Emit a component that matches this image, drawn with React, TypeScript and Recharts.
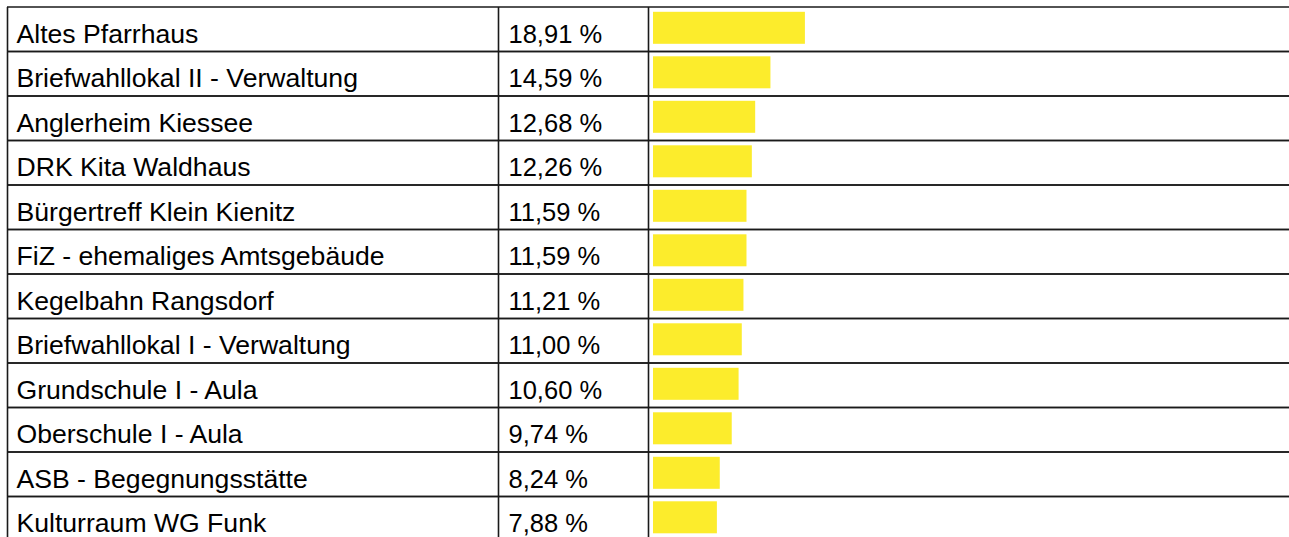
import React from 'react';
import { BarChart, Bar, XAxis, YAxis } from 'recharts';

// Wahllokale und Anteile (in %)
const locations = [
  'Altes Pfarrhaus',
  'Briefwahllokal II - Verwaltung',
  'Anglerheim Kiessee',
  'DRK Kita Waldhaus',
  'Bürgertreff Klein Kienitz',
  'FiZ - ehemaliges Amtsgebäude',
  'Kegelbahn Rangsdorf',
  'Briefwahllokal I - Verwaltung',
  'Grundschule I - Aula',
  'Oberschule I - Aula',
  'ASB - Begegnungsstätte',
  'Kulturraum WG Funk',
];
const shares = [18.91, 14.59, 12.68, 12.26, 11.59, 11.59, 11.21, 11.0, 10.6, 9.74, 8.24, 7.88];

const data = locations.map((name, i) => ({ name, share: shares[i] }));

const WIDTH = 1289;
const HEIGHT = 560;
const MARGIN = { top: 7, right: 0, bottom: 19, left: 8 };
const ROW = (HEIGHT - MARGIN.top - MARGIN.bottom) / locations.length;
const LINE = '#1a1a1a';
const FONT = '"Liberation Sans", Arial, Helvetica, sans-serif';

const formatShare = (v: number) => v.toFixed(2).replace('.', ',') + ' %';

// draws one table row: borders, name and percent
const RowTick = (props: any) => {
  const { y, payload } = props;
  const idx = payload.index;
  const top = y - ROW / 2;
  const baseline = top + 35.5;
  return (
    <g>
      <line x1={7} x2={WIDTH} y1={top} y2={top} stroke={LINE} strokeWidth={1.6} />
      <line x1={7} x2={WIDTH} y1={top + ROW} y2={top + ROW} stroke={LINE} strokeWidth={1.6} />
      <line x1={7.5} x2={7.5} y1={top} y2={top + ROW} stroke={LINE} strokeWidth={1.6} />
      <line x1={498.5} x2={498.5} y1={top} y2={top + ROW} stroke={LINE} strokeWidth={1.6} />
      <line x1={648.5} x2={648.5} y1={top} y2={top + ROW} stroke={LINE} strokeWidth={1.6} />
      <text x={16.5} y={baseline} fontFamily={FONT} fontSize={26.6} fill="#000">
        {payload.value}
      </text>
      <text x={508.5} y={baseline} fontFamily={FONT} fontSize={25.5} fill="#000">
        {formatShare(shares[idx])}
      </text>
    </g>
  );
};

const BarShape = (props: any) => {
  const { x, y, width, height, fill } = props;
  return <rect x={x} y={y - 1.2} width={width + 1} height={height} fill={fill} />;
};

export default function App() {
  return (
    <div style={{ position: 'absolute', left: 0, top: 0, background: '#fff' }}>
      <BarChart width={WIDTH} height={HEIGHT} data={data} layout="vertical" margin={MARGIN}>
        <XAxis type="number" domain={[0, 79.7]} hide />
        <YAxis
          type="category"
          dataKey="name"
          width={645}
          axisLine={false}
          tickLine={false}
          interval={0}
          tick={<RowTick />}
        />
        <Bar dataKey="share" fill="#fcec2c" barSize={32} shape={<BarShape />} isAnimationActive={false} />
      </BarChart>
    </div>
  );
}
